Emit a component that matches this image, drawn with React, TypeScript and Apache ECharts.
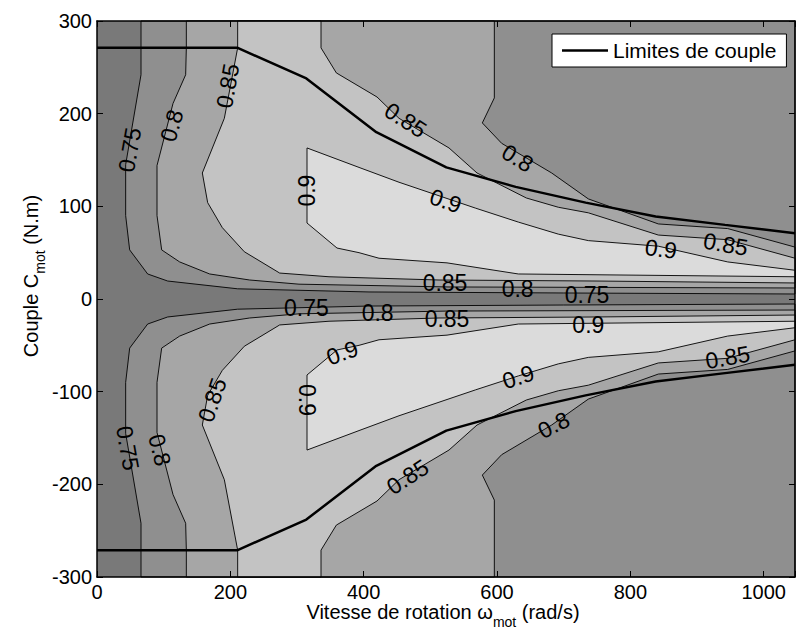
import React, { useEffect, useRef } from 'react';
import * as echarts from 'echarts';

const FONT = '"Liberation Sans", Arial, Helvetica, sans-serif';
const W_MAX = 1047;
const X_MIN = 0;
const Y_MIN = -300;
const Y_MAX = 300;
const X_STEP = 200;
const Y_STEP = 100;

// Contour lines of the upper half (speed rad/s, torque N.m); lower half is mirrored.
const C075: number[][] = [[66, 300], [66, 242], [43, 145], [43, 90], [49, 53], [76, 27], [106, 19.4], [211, 11], [408, 7.6], [700, 6.5], [1047, 5.4]];
const L080: number[][] = [[134, 300], [134, 271], [133, 242], [114, 211], [90, 144], [90, 90], [97, 53], [124, 40], [169, 27], [229, 20.5], [303, 16], [528, 13], [1047, 11.9]];
const R080: number[][] = [[596, 300], [596, 217], [578, 190], [607, 168], [682, 136], [737, 108], [842, 81], [946, 76], [1047, 56]];
const L085: number[][] = [[211, 300], [211, 271], [191, 195], [158, 136], [166, 104], [188, 77], [221, 51], [274, 28], [348, 24], [408, 22.7], [513, 20.5], [750, 19.4], [1047, 17.3]];
const R085: number[][] = [[336, 300], [336, 271], [359, 244], [420, 218], [453, 195], [528, 163], [570, 136], [644, 109], [692, 99], [737, 93], [842, 69], [946, 64], [1047, 44]];
const P090: number[][] = [[315, 163], [393, 142], [453, 126], [568, 98], [632, 83], [692, 70], [737, 63], [842, 57], [946, 40], [1047, 31], [1047, 24], [632, 27], [525, 39], [423, 44], [393, 50], [360, 55], [315, 82]];

// Torque limit
const TORQUE_W = [0, 211, 314, 419, 524, 628, 733, 838, 942, 1047];
const TORQUE_C = [271, 271, 238, 180, 142, 121, 104, 89, 80, 71];

const LEVEL_COLORS = ['#797979', '#8f8f8f', '#a6a6a6', '#c3c3c3', '#dbdbdb'];

// Contour labels: speed, torque, text, angle (deg, CCW)
const LABEL_W = [49, 112, 196, 315, 463, 631, 523, 846, 943, 522, 631, 735, 314, 421, 525, 737, 946, 632, 685, 466, 368, 315, 173, 94, 46];
const LABEL_C = [161, 187, 230, 117, 193, 152, 106, 54, 59, 17, 11, 4, -10, -15, -21.6, -28, -63, -84, -136, -192, -58, -109, -109, -163, -161];
const LABEL_T = ['0.75', '0.8', '0.85', '0.9', '0.85', '0.8', '0.9', '0.9', '0.85', '0.85', '0.8', '0.75', '0.75', '0.8', '0.85', '0.9', '0.85', '0.9', '0.8', '0.85', '0.9', '0.9', '0.85', '0.8', '0.75'];
const LABEL_A = [80, 74, 80, 90, -33, -31, -19, -8, -10, 0, 0, 0, 0, 0, 0, 0, 10, 18, 27, 33, 20, -90, 71, -76, -80];

const X_TITLE = ['Vitesse de rotation ω', 'mot', ' (rad/s)'];
const Y_TITLE = ['Couple C', 'mot', ' (N.m)'];
const LEGEND_NAME = 'Limites de couple';

const mirror = (pts: number[][]) => pts.map(([w, c]) => [w, -c]);

function measure(text: string, size: number): number {
  const cv = document.createElement('canvas');
  const ctx = cv.getContext('2d')!;
  ctx.font = `${size}px ${FONT}`;
  return ctx.measureText(text).width;
}

export default function App() {
  const ref = useRef<HTMLDivElement>(null);
  useEffect(() => {
    document.body.style.margin = '0';
    const chart = echarts.init(ref.current!, null, { renderer: 'svg' });

    const up075 = [...C075, [W_MAX, Y_MAX]];
    const up080 = [...L080, ...R080.slice().reverse()];
    const up085 = [...L085, ...R085.slice().reverse()];
    const polys = [
      { pts: [[X_MIN, Y_MIN], [W_MAX, Y_MIN], [W_MAX, Y_MAX], [X_MIN, Y_MAX]], color: LEVEL_COLORS[0], stroke: false },
      { pts: up075, color: LEVEL_COLORS[1], stroke: true },
      { pts: mirror(up075), color: LEVEL_COLORS[1], stroke: true },
      { pts: up080, color: LEVEL_COLORS[2], stroke: true },
      { pts: mirror(up080), color: LEVEL_COLORS[2], stroke: true },
      { pts: up085, color: LEVEL_COLORS[3], stroke: true },
      { pts: mirror(up085), color: LEVEL_COLORS[3], stroke: true },
      { pts: P090, color: LEVEL_COLORS[4], stroke: true },
      { pts: mirror(P090), color: LEVEL_COLORS[4], stroke: true },
    ];

    const fmtX = (v: number) => (v % X_STEP === 0 ? String(v) : '');
    const fmtY = (v: number) => (v % Y_STEP === 0 ? String(v) : '');
    const axisBase = {
      type: 'value' as const,
      axisLine: { show: true, onZero: false, lineStyle: { color: '#000', width: 1.5 } },
      axisTick: { show: true, inside: true, length: 6, lineStyle: { color: '#000', width: 1 } },
      splitLine: { show: false },
      z: 10,
    };
    const labelStyle = { color: '#000', fontSize: 20, fontFamily: FONT };

    // Axis titles with subscripts
    const big = 20, small = 14;
    const xw = X_TITLE.map((t, i) => measure(t, i === 1 ? small : big));
    const yw = Y_TITLE.map((t, i) => measure(t, i === 1 ? small : big));
    const xcx = 443, xcy = 612, xsub = 10;
    const ycx = 31, ycy = 276, ysub = 9;
    const x0 = xcx - (xw[0] + xw[1] + xw[2]) / 2;
    const y0 = ycy + (yw[0] + yw[1] + yw[2]) / 2;
    const mk = (text: string, size: number, x: number, y: number, rot: number) => ({
      type: 'text', x, y, rotation: rot, z: 20,
      style: { text, fill: '#000', fontSize: size, fontFamily: FONT, align: 'left', verticalAlign: 'middle' },
    });
    const graphics = [
      mk(X_TITLE[0], big, x0, xcy, 0),
      mk(X_TITLE[1], small, x0 + xw[0], xcy + xsub, 0),
      mk(X_TITLE[2], big, x0 + xw[0] + xw[1], xcy, 0),
      mk(Y_TITLE[0], big, ycx, y0, Math.PI / 2),
      mk(Y_TITLE[1], small, ycx + ysub, y0 - yw[0], Math.PI / 2),
      mk(Y_TITLE[2], big, ycx, y0 - yw[0] - yw[1], Math.PI / 2),
    ];

    chart.setOption({
      animation: false,
      backgroundColor: '#fff',
      grid: { left: 97, right: 1, top: 21, bottom: 58, containLabel: false },
      xAxis: [
        { ...axisBase, min: X_MIN, max: W_MAX, interval: X_STEP, position: 'bottom',
          axisLabel: { ...labelStyle, margin: 5, formatter: fmtX } },
        { ...axisBase, min: X_MIN, max: W_MAX, interval: X_STEP, position: 'top', axisLabel: { show: false } },
      ],
      yAxis: [
        { ...axisBase, min: Y_MIN, max: Y_MAX, interval: Y_STEP, position: 'left',
          axisLabel: { ...labelStyle, margin: 5, formatter: fmtY } },
        { ...axisBase, min: Y_MIN, max: Y_MAX, interval: Y_STEP, position: 'right', axisLabel: { show: false } },
      ],
      legend: {
        data: [{ name: LEGEND_NAME, icon: 'rect' }],
        left: 552, top: 34,
        itemWidth: 46, itemHeight: 2.5,
        padding: [6, 10, 6, 10],
        backgroundColor: '#fff', borderColor: '#000', borderWidth: 1, borderRadius: 0,
        itemStyle: { color: '#000', borderWidth: 0 },
        textStyle: { color: '#000', fontSize: 21, fontFamily: FONT },
        z: 20,
      },
      graphic: graphics,
      series: [
        {
          type: 'custom',
          name: 'contours',
          z: 1,
          silent: true,
          data: polys.map((_, i) => [i]),
          renderItem: (params: any, api: any) => {
            const p = polys[params.dataIndex];
            return {
              type: 'polygon',
              shape: { points: p.pts.map((q) => api.coord(q)) },
              style: { fill: p.color, stroke: p.stroke ? '#000' : 'none', lineWidth: 0.9 },
            };
          },
        },
        {
          type: 'line',
          name: LEGEND_NAME,
          z: 5,
          symbol: 'none',
          lineStyle: { color: '#000', width: 2.5 },
          itemStyle: { color: '#000' },
          data: TORQUE_W.map((w, i) => [w, TORQUE_C[i]]),
        },
        {
          type: 'line',
          name: LEGEND_NAME,
          z: 5,
          symbol: 'none',
          lineStyle: { color: '#000', width: 2.5 },
          itemStyle: { color: '#000' },
          data: TORQUE_W.map((w, i) => [w, -TORQUE_C[i]]),
        },
        {
          type: 'custom',
          name: 'labels',
          z: 6,
          silent: true,
          data: LABEL_W.map((w, i) => [w, LABEL_C[i], i]),
          renderItem: (params: any, api: any) => {
            const i = params.dataIndex;
            const pt = api.coord([api.value(0), api.value(1)]);
            return {
              type: 'text',
              x: pt[0], y: pt[1],
              rotation: (LABEL_A[i] * Math.PI) / 180,
              style: { text: LABEL_T[i], fill: '#000', fontSize: 23, fontFamily: FONT, align: 'center', verticalAlign: 'middle' },
            };
          },
        },
      ],
    });
    return () => chart.dispose();
  }, []);
  return <div ref={ref} style={{ width: 798, height: 635 }} />;
}
